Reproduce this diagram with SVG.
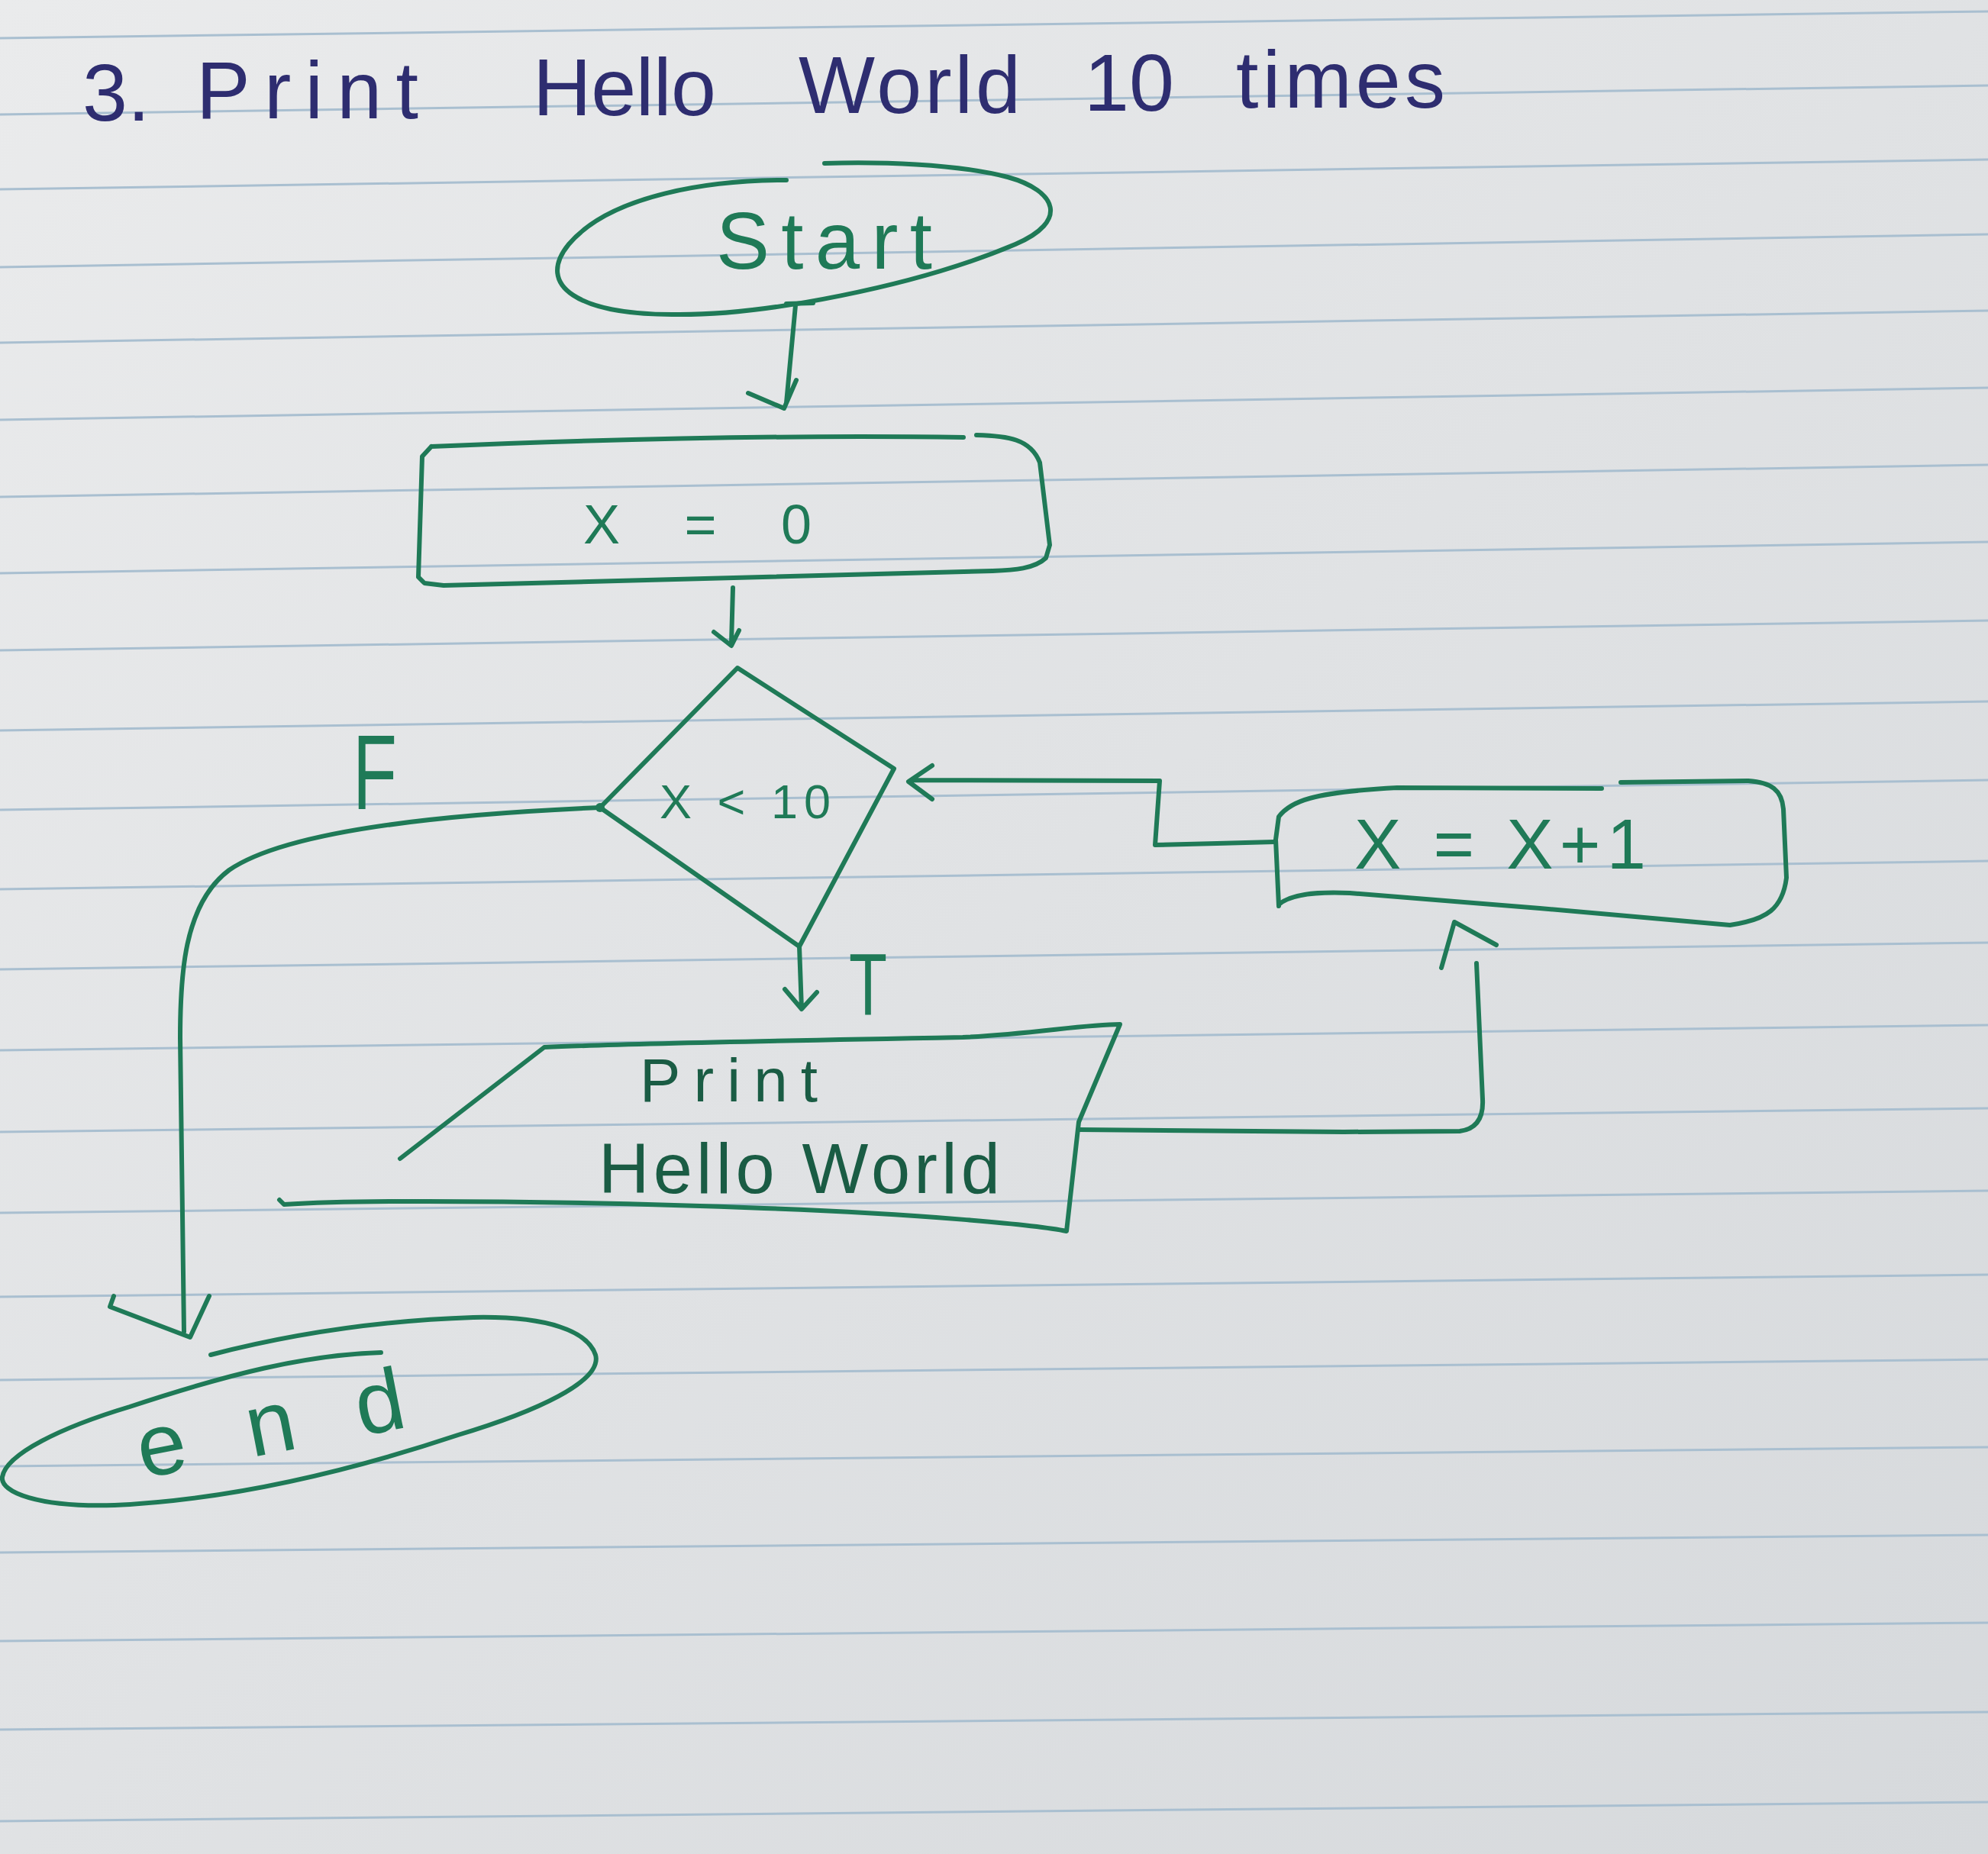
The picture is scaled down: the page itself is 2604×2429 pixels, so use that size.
<svg xmlns="http://www.w3.org/2000/svg" width="2604" height="2429" viewBox="0 0 2604 2429">
<style>
.ink{fill:none;stroke:#1f7a57;stroke-width:6;stroke-linecap:round;stroke-linejoin:round}
.rule{stroke:#a9bfd0;stroke-width:3}
.t{font-family:"Liberation Sans",Arial,sans-serif;fill:#1f7a57}
.dk{fill:#1a5c44}
.title{font-family:"Liberation Sans",Arial,sans-serif;fill:#2e2d70;font-size:106px}
</style>
<defs>
<linearGradient id="paper" x1="0" y1="0" x2="1" y2="1">
<stop offset="0" stop-color="#eaebec"/>
<stop offset="1" stop-color="#d6d9dc"/>
</linearGradient>
</defs>
<rect width="2604" height="2429" fill="url(#paper)"/>
<g id="rules">
<line class="rule" x1="0" y1="50" x2="2604" y2="15"/>
<line class="rule" x1="0" y1="150" x2="2604" y2="112"/>
<line class="rule" x1="0" y1="248" x2="2604" y2="209"/>
<line class="rule" x1="0" y1="350" x2="2604" y2="307"/>
<line class="rule" x1="0" y1="449" x2="2604" y2="407"/>
<line class="rule" x1="0" y1="550" x2="2604" y2="508"/>
<line class="rule" x1="0" y1="651" x2="2604" y2="609"/>
<line class="rule" x1="0" y1="751" x2="2604" y2="710"/>
<line class="rule" x1="0" y1="852" x2="2604" y2="813"/>
<line class="rule" x1="0" y1="957" x2="2604" y2="919"/>
<line class="rule" x1="0" y1="1061" x2="2604" y2="1022"/>
<line class="rule" x1="0" y1="1165" x2="2604" y2="1128"/>
<line class="rule" x1="0" y1="1270" x2="2604" y2="1235"/>
<line class="rule" x1="0" y1="1376" x2="2604" y2="1343"/>
<line class="rule" x1="0" y1="1483" x2="2604" y2="1452"/>
<line class="rule" x1="0" y1="1589" x2="2604" y2="1560"/>
<line class="rule" x1="0" y1="1699" x2="2604" y2="1670"/>
<line class="rule" x1="0" y1="1808" x2="2604" y2="1781"/>
<line class="rule" x1="0" y1="1921" x2="2604" y2="1896"/>
<line class="rule" x1="0" y1="2034" x2="2604" y2="2011"/>
<line class="rule" x1="0" y1="2150" x2="2604" y2="2126"/>
<line class="rule" x1="0" y1="2266" x2="2604" y2="2243"/>
<line class="rule" x1="0" y1="2386" x2="2604" y2="2361"/>
</g>
<g id="title">
<text class="title" x="108" y="158">3.</text>
<text class="title" x="257" y="155" textLength="291" lengthAdjust="spacing">Print</text>
<text class="title" x="698" y="151" textLength="240" lengthAdjust="spacing">Hello</text>
<text class="title" x="1046" y="148" textLength="291" lengthAdjust="spacing">World</text>
<text class="title" x="1420" y="145">10</text>
<text class="title" x="1619" y="141" textLength="274" lengthAdjust="spacing">times</text>
</g>
<g id="connectors">
<path class="ink" d="M1030,398 L1065,397 M1042,400 L1030,528 M980,515 L1027,535 L1043,498"/>
<path class="ink" d="M960,770 L958,842 M935,828 L958,846 L968,826"/>
<path class="ink" d="M1669,1103 L1594,1105 L1513,1107 L1519,1023 L1196,1022 M1221,1003 L1190,1024 L1221,1047"/>
<path class="ink" d="M1047,1240 L1050,1322 M1028,1296 L1050,1322 L1070,1300"/>
<path class="ink" d="M1413,1480 L1760,1483 L1912,1482 Q1944,1478 1942,1440 L1934,1262 M1888,1268 L1905,1208 L1960,1238"/>
<path class="ink" d="M786,1058 C600,1066 380,1085 300,1140 C240,1185 236,1280 236,1360 L241,1745 M149,1698 L144,1712 L249,1752 L274,1698"/>
</g>
<g id="labels">
<text class="t" x="462" y="1060" font-size="140" textLength="58" lengthAdjust="spacingAndGlyphs">F</text>
<text class="t" x="1112" y="1330" font-size="115" textLength="50" lengthAdjust="spacingAndGlyphs">T</text>
</g>
<g id="start">
<path class="ink" d="M1030,236 C930,236 800,255 745,320 C700,375 760,412 880,412 C1000,414 1200,375 1330,320 C1400,290 1385,250 1320,232 C1250,214 1150,212 1080,214"/>
<text class="t" x="938" y="352" font-size="105" textLength="283" lengthAdjust="spacing">Start</text>
</g>
<g id="init">
<path class="ink" d="M565,585 C800,575 1050,570 1262,573 M1279,570 C1320,571 1350,575 1362,606 L1375,714 L1370,731 C1355,745 1329,747 1300,748 L581,767 L556,764 L548,756 L553,598 L565,585"/>
<text class="t" x="764" y="712" font-size="72" textLength="299" lengthAdjust="spacing">X = 0</text>
</g>
<g id="decision">
<path class="ink" d="M966,875 L1171,1007 L1047,1240 L786,1058 Z"/>
<circle cx="786" cy="1058" r="6" fill="#1f7a57"/>
<text class="t" x="864" y="1072" font-size="63" textLength="224" lengthAdjust="spacing">X &lt; 10</text>
</g>
<g id="increment">
<path class="ink" d="M1675,1187 L1671,1100 L1675,1070 C1690,1050 1718,1038 1830,1032 L2098,1033 M2123,1025 L2290,1023 C2320,1025 2334,1035 2336,1060 L2340,1150 C2335,1190 2315,1205 2266,1212 L2017,1190 L1768,1170 C1720,1168 1690,1172 1675,1185"/>
<text class="t" x="1774" y="1138" font-size="92" textLength="382" lengthAdjust="spacing">X = X+1</text>
</g>
<g id="print">
<path class="ink" d="M524,1518 L713,1372 C800,1368 1100,1362 1261,1359 C1350,1355 1420,1342 1467,1342 L1413,1470 L1397,1613 C1360,1605 1200,1590 1001,1583 C800,1575 500,1570 372,1578 L366,1572"/>
<text class="t dk" x="838" y="1443" font-size="80" textLength="233" lengthAdjust="spacing">Print</text>
<text class="t dk" x="784" y="1563" font-size="92" textLength="526" lengthAdjust="spacing">Hello World</text>
</g>
<g id="end">
<path class="ink" d="M276,1775 C380,1748 500,1730 620,1726 C720,1724 770,1745 780,1775 C790,1810 700,1850 600,1880 C450,1930 300,1965 150,1972 C50,1975 0,1955 3,1935 C8,1905 80,1870 170,1843 C300,1800 400,1775 499,1772"/>
<text class="t" x="187" y="1937" font-size="115" textLength="355" lengthAdjust="spacing" transform="rotate(-11 187 1937)">end</text>
</g>
</svg>
